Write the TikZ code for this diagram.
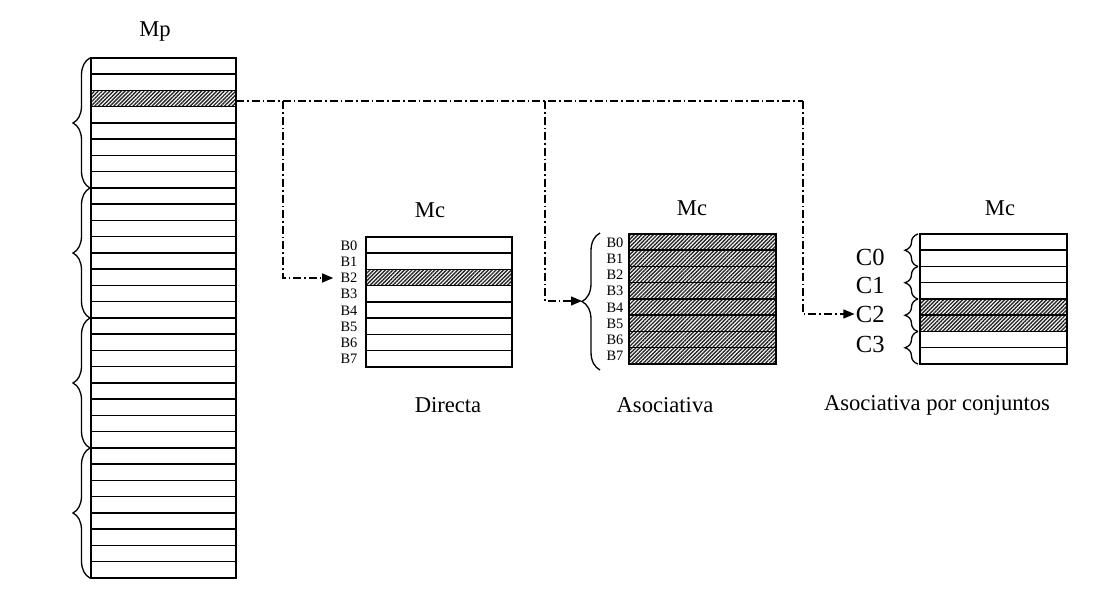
\documentclass[tikz,border=0pt]{standalone}
\usepackage{fontspec}
\setmainfont{Liberation Serif}
\usetikzlibrary{arrows.meta,decorations.pathreplacing,patterns.meta}
\tikzset{
	cell/.style={draw,line width=0.75pt},
	hatch/.style={cell,pattern={Lines[angle=45,distance=1.35pt,line width=0.7pt]},pattern color=black!85},
	brc/.style={decorate,decoration={brace,amplitude=#1},line width=0.65pt},
	link/.style={line width=0.6pt,dash pattern=on 4pt off 1.5pt on 0.8pt off 1.5pt},
	arrowlink/.style={link,-{Triangle[length=5.5pt,width=4.5pt]}},
	ttl/.style={font=\fontsize{11.3}{13}\selectfont,inner sep=0pt},
	blk/.style={font=\fontsize{7.2}{8}\selectfont,inner sep=0pt},
	setlbl/.style={font=\fontsize{12.3}{14}\selectfont,inner sep=0pt,anchor=east}
}
\begin{document}
\begin{tikzpicture}[x=0.5pt,y=-0.5pt]
		\useasboundingbox (0,0) rectangle (1105,598);
		% main memory
		\node[ttl] (mp) at (155,32) {Mp};
		\foreach \i in {0,...,31}
		\draw[cell] (91,{58+16.25*\i}) rectangle +(145,16.25);
		\draw[hatch] (91,{58+16.25*2}) rectangle +(145,16.25);
		\foreach \g in {0,...,3}
		\draw[brc=8.5pt] (90,{58+130*(\g+1)}) -- (90,{58+130*\g});
		% direct mapped
		\node[ttl] (mcd) at (430,210) {Mc};
		\foreach \i in {0,...,7} {
			\draw[cell] (366,{237+16.25*\i}) rectangle +(146,16.25);
			\node[blk] (d\i) at (349,{245.5+16.25*\i}) {B\i};
		}
		\draw[hatch] (366,{237+16.25*2}) rectangle +(146,16.25);
		\node[ttl] (dir) at (448,405) {Directa};
		% fully associative
		\node[ttl] (mca) at (692,208) {Mc};
		\foreach \i in {0,...,7} {
			\draw[hatch] (629,{234+16.25*\i}) rectangle +(147,16.25);
			\node[blk] (a\i) at (615,{242.5+16.25*\i}) {B\i};
		}
		\draw[brc=9pt] (600,370) -- (600,233);
		\coordinate (abr) at (582,301);
		\node[ttl] (aso) at (665,405) {Asociativa};
		% set associative
		\node[ttl] (mcs) at (1000,208) {Mc};
		\foreach \i in {0,...,7}
		\draw[cell] (920,{234+16.25*\i}) rectangle +(147,16.25);
		\foreach \i in {4,5}
		\draw[hatch] (920,{234+16.25*\i}) rectangle +(147,16.25);
		\foreach \k/\y in {0/257,1/285,2/314,3/344} {
			\draw[brc=6.5pt] (918,{234+32.5*(\k+1)}) -- (918,{234+32.5*\k});
			\node[setlbl] (c\k) at (885,\y) {C\k};
		}
		\node[ttl] (con) at (937,405) {Asociativa por conjuntos};
		% links
		\coordinate (src) at (236,101);
		\coordinate (jd) at (283,101);
		\coordinate (ja) at (545,101);
		\coordinate (js) at (803,101);
		\draw[link] (src) -- (js);
		\draw[arrowlink,shorten >=3.5pt] (jd) |- (d2.west);
		\draw[arrowlink] (ja) |- (abr);
		\draw[arrowlink,shorten >=0.5pt] (js) |- (c2.west);
	\end{tikzpicture}
\end{document}
